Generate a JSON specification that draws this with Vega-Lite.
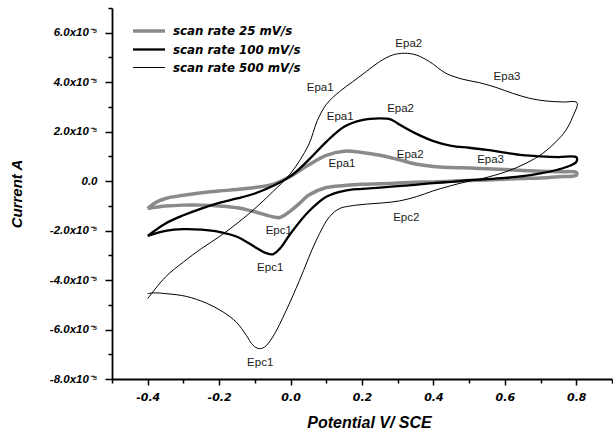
{
  "$schema": "https://vega.github.io/schema/vega-lite/v6.json",
  "width": 500,
  "height": 371,
  "autosize": {"type": "none"},
  "padding": {"left": 112, "top": 8, "right": 1, "bottom": 56},
  "background": "white",
  "config": {"view": {"stroke": null}, "font": "Liberation Sans"},
  "datasets": {
    "cv": [
      {"rate": "scan rate 25 mV/s", "i": 0, "V": -0.4, "I": -1.11e-5},
      {"rate": "scan rate 25 mV/s", "i": 1, "V": -0.38, "I": -0.88e-5},
      {"rate": "scan rate 25 mV/s", "i": 2, "V": -0.35, "I": -0.70e-5},
      {"rate": "scan rate 25 mV/s", "i": 3, "V": -0.3, "I": -0.57e-5},
      {"rate": "scan rate 25 mV/s", "i": 4, "V": -0.25, "I": -0.47e-5},
      {"rate": "scan rate 25 mV/s", "i": 5, "V": -0.2, "I": -0.40e-5},
      {"rate": "scan rate 25 mV/s", "i": 6, "V": -0.15, "I": -0.34e-5},
      {"rate": "scan rate 25 mV/s", "i": 7, "V": -0.1, "I": -0.26e-5},
      {"rate": "scan rate 25 mV/s", "i": 8, "V": -0.05, "I": -0.13e-5},
      {"rate": "scan rate 25 mV/s", "i": 9, "V": 0.0, "I": 0.20e-5},
      {"rate": "scan rate 25 mV/s", "i": 10, "V": 0.05, "I": 0.65e-5},
      {"rate": "scan rate 25 mV/s", "i": 11, "V": 0.1, "I": 1.04e-5},
      {"rate": "scan rate 25 mV/s", "i": 12, "V": 0.15, "I": 1.21e-5},
      {"rate": "scan rate 25 mV/s", "i": 13, "V": 0.2, "I": 1.16e-5},
      {"rate": "scan rate 25 mV/s", "i": 14, "V": 0.25, "I": 1.05e-5},
      {"rate": "scan rate 25 mV/s", "i": 15, "V": 0.3, "I": 0.88e-5},
      {"rate": "scan rate 25 mV/s", "i": 16, "V": 0.35, "I": 0.69e-5},
      {"rate": "scan rate 25 mV/s", "i": 17, "V": 0.4, "I": 0.59e-5},
      {"rate": "scan rate 25 mV/s", "i": 18, "V": 0.45, "I": 0.55e-5},
      {"rate": "scan rate 25 mV/s", "i": 19, "V": 0.5, "I": 0.53e-5},
      {"rate": "scan rate 25 mV/s", "i": 20, "V": 0.55, "I": 0.50e-5},
      {"rate": "scan rate 25 mV/s", "i": 21, "V": 0.6, "I": 0.47e-5},
      {"rate": "scan rate 25 mV/s", "i": 22, "V": 0.65, "I": 0.43e-5},
      {"rate": "scan rate 25 mV/s", "i": 23, "V": 0.7, "I": 0.40e-5},
      {"rate": "scan rate 25 mV/s", "i": 24, "V": 0.75, "I": 0.38e-5},
      {"rate": "scan rate 25 mV/s", "i": 25, "V": 0.8, "I": 0.35e-5},
      {"rate": "scan rate 25 mV/s", "i": 26, "V": 0.8, "I": 0.24e-5},
      {"rate": "scan rate 25 mV/s", "i": 27, "V": 0.75, "I": 0.18e-5},
      {"rate": "scan rate 25 mV/s", "i": 28, "V": 0.7, "I": 0.13e-5},
      {"rate": "scan rate 25 mV/s", "i": 29, "V": 0.65, "I": 0.11e-5},
      {"rate": "scan rate 25 mV/s", "i": 30, "V": 0.6, "I": 0.08e-5},
      {"rate": "scan rate 25 mV/s", "i": 31, "V": 0.55, "I": 0.05e-5},
      {"rate": "scan rate 25 mV/s", "i": 32, "V": 0.5, "I": 0.03e-5},
      {"rate": "scan rate 25 mV/s", "i": 33, "V": 0.45, "I": 0.0},
      {"rate": "scan rate 25 mV/s", "i": 34, "V": 0.4, "I": -0.03e-5},
      {"rate": "scan rate 25 mV/s", "i": 35, "V": 0.35, "I": -0.05e-5},
      {"rate": "scan rate 25 mV/s", "i": 36, "V": 0.3, "I": -0.08e-5},
      {"rate": "scan rate 25 mV/s", "i": 37, "V": 0.25, "I": -0.11e-5},
      {"rate": "scan rate 25 mV/s", "i": 38, "V": 0.2, "I": -0.13e-5},
      {"rate": "scan rate 25 mV/s", "i": 39, "V": 0.15, "I": -0.18e-5},
      {"rate": "scan rate 25 mV/s", "i": 40, "V": 0.1, "I": -0.26e-5},
      {"rate": "scan rate 25 mV/s", "i": 41, "V": 0.05, "I": -0.57e-5},
      {"rate": "scan rate 25 mV/s", "i": 42, "V": 0.025, "I": -0.90e-5},
      {"rate": "scan rate 25 mV/s", "i": 43, "V": 0.0, "I": -1.20e-5},
      {"rate": "scan rate 25 mV/s", "i": 44, "V": -0.03, "I": -1.47e-5},
      {"rate": "scan rate 25 mV/s", "i": 45, "V": -0.05, "I": -1.44e-5},
      {"rate": "scan rate 25 mV/s", "i": 46, "V": -0.1, "I": -1.24e-5},
      {"rate": "scan rate 25 mV/s", "i": 47, "V": -0.15, "I": -1.08e-5},
      {"rate": "scan rate 25 mV/s", "i": 48, "V": -0.2, "I": -1.01e-5},
      {"rate": "scan rate 25 mV/s", "i": 49, "V": -0.25, "I": -0.97e-5},
      {"rate": "scan rate 25 mV/s", "i": 50, "V": -0.3, "I": -0.97e-5},
      {"rate": "scan rate 25 mV/s", "i": 51, "V": -0.35, "I": -1.01e-5},
      {"rate": "scan rate 25 mV/s", "i": 52, "V": -0.4, "I": -1.11e-5},

      {"rate": "scan rate 100 mV/s", "i": 0, "V": -0.4, "I": -2.21e-5},
      {"rate": "scan rate 100 mV/s", "i": 1, "V": -0.35, "I": -1.71e-5},
      {"rate": "scan rate 100 mV/s", "i": 2, "V": -0.3, "I": -1.38e-5},
      {"rate": "scan rate 100 mV/s", "i": 3, "V": -0.25, "I": -1.11e-5},
      {"rate": "scan rate 100 mV/s", "i": 4, "V": -0.2, "I": -0.88e-5},
      {"rate": "scan rate 100 mV/s", "i": 5, "V": -0.15, "I": -0.70e-5},
      {"rate": "scan rate 100 mV/s", "i": 6, "V": -0.1, "I": -0.50e-5},
      {"rate": "scan rate 100 mV/s", "i": 7, "V": -0.05, "I": -0.20e-5},
      {"rate": "scan rate 100 mV/s", "i": 8, "V": 0.0, "I": 0.20e-5},
      {"rate": "scan rate 100 mV/s", "i": 9, "V": 0.05, "I": 0.85e-5},
      {"rate": "scan rate 100 mV/s", "i": 10, "V": 0.1, "I": 1.59e-5},
      {"rate": "scan rate 100 mV/s", "i": 11, "V": 0.15, "I": 2.20e-5},
      {"rate": "scan rate 100 mV/s", "i": 12, "V": 0.2, "I": 2.47e-5},
      {"rate": "scan rate 100 mV/s", "i": 13, "V": 0.25, "I": 2.54e-5},
      {"rate": "scan rate 100 mV/s", "i": 14, "V": 0.28, "I": 2.50e-5},
      {"rate": "scan rate 100 mV/s", "i": 15, "V": 0.3, "I": 2.33e-5},
      {"rate": "scan rate 100 mV/s", "i": 16, "V": 0.35, "I": 1.93e-5},
      {"rate": "scan rate 100 mV/s", "i": 17, "V": 0.4, "I": 1.62e-5},
      {"rate": "scan rate 100 mV/s", "i": 18, "V": 0.45, "I": 1.43e-5},
      {"rate": "scan rate 100 mV/s", "i": 19, "V": 0.5, "I": 1.35e-5},
      {"rate": "scan rate 100 mV/s", "i": 20, "V": 0.55, "I": 1.26e-5},
      {"rate": "scan rate 100 mV/s", "i": 21, "V": 0.6, "I": 1.15e-5},
      {"rate": "scan rate 100 mV/s", "i": 22, "V": 0.65, "I": 1.05e-5},
      {"rate": "scan rate 100 mV/s", "i": 23, "V": 0.7, "I": 1.00e-5},
      {"rate": "scan rate 100 mV/s", "i": 24, "V": 0.75, "I": 0.97e-5},
      {"rate": "scan rate 100 mV/s", "i": 25, "V": 0.8, "I": 0.97e-5},
      {"rate": "scan rate 100 mV/s", "i": 26, "V": 0.8, "I": 0.78e-5},
      {"rate": "scan rate 100 mV/s", "i": 27, "V": 0.78, "I": 0.61e-5},
      {"rate": "scan rate 100 mV/s", "i": 28, "V": 0.75, "I": 0.47e-5},
      {"rate": "scan rate 100 mV/s", "i": 29, "V": 0.7, "I": 0.31e-5},
      {"rate": "scan rate 100 mV/s", "i": 30, "V": 0.65, "I": 0.20e-5},
      {"rate": "scan rate 100 mV/s", "i": 31, "V": 0.6, "I": 0.13e-5},
      {"rate": "scan rate 100 mV/s", "i": 32, "V": 0.55, "I": 0.08e-5},
      {"rate": "scan rate 100 mV/s", "i": 33, "V": 0.5, "I": 0.04e-5},
      {"rate": "scan rate 100 mV/s", "i": 34, "V": 0.45, "I": -0.03e-5},
      {"rate": "scan rate 100 mV/s", "i": 35, "V": 0.4, "I": -0.08e-5},
      {"rate": "scan rate 100 mV/s", "i": 36, "V": 0.35, "I": -0.15e-5},
      {"rate": "scan rate 100 mV/s", "i": 37, "V": 0.3, "I": -0.20e-5},
      {"rate": "scan rate 100 mV/s", "i": 38, "V": 0.25, "I": -0.26e-5},
      {"rate": "scan rate 100 mV/s", "i": 39, "V": 0.2, "I": -0.31e-5},
      {"rate": "scan rate 100 mV/s", "i": 40, "V": 0.15, "I": -0.39e-5},
      {"rate": "scan rate 100 mV/s", "i": 41, "V": 0.1, "I": -0.63e-5},
      {"rate": "scan rate 100 mV/s", "i": 42, "V": 0.05, "I": -1.24e-5},
      {"rate": "scan rate 100 mV/s", "i": 43, "V": 0.0, "I": -2.12e-5},
      {"rate": "scan rate 100 mV/s", "i": 44, "V": -0.03, "I": -2.73e-5},
      {"rate": "scan rate 100 mV/s", "i": 45, "V": -0.05, "I": -2.96e-5},
      {"rate": "scan rate 100 mV/s", "i": 46, "V": -0.07, "I": -2.90e-5},
      {"rate": "scan rate 100 mV/s", "i": 47, "V": -0.1, "I": -2.66e-5},
      {"rate": "scan rate 100 mV/s", "i": 48, "V": -0.15, "I": -2.25e-5},
      {"rate": "scan rate 100 mV/s", "i": 49, "V": -0.2, "I": -2.05e-5},
      {"rate": "scan rate 100 mV/s", "i": 50, "V": -0.25, "I": -1.96e-5},
      {"rate": "scan rate 100 mV/s", "i": 51, "V": -0.3, "I": -1.94e-5},
      {"rate": "scan rate 100 mV/s", "i": 52, "V": -0.35, "I": -2.01e-5},
      {"rate": "scan rate 100 mV/s", "i": 53, "V": -0.4, "I": -2.21e-5},

      {"rate": "scan rate 500 mV/s", "i": 0, "V": -0.4, "I": -4.75e-5},
      {"rate": "scan rate 500 mV/s", "i": 1, "V": -0.35, "I": -3.87e-5},
      {"rate": "scan rate 500 mV/s", "i": 2, "V": -0.3, "I": -3.27e-5},
      {"rate": "scan rate 500 mV/s", "i": 3, "V": -0.25, "I": -2.73e-5},
      {"rate": "scan rate 500 mV/s", "i": 4, "V": -0.2, "I": -2.25e-5},
      {"rate": "scan rate 500 mV/s", "i": 5, "V": -0.15, "I": -1.71e-5},
      {"rate": "scan rate 500 mV/s", "i": 6, "V": -0.1, "I": -1.11e-5},
      {"rate": "scan rate 500 mV/s", "i": 7, "V": -0.05, "I": -0.43e-5},
      {"rate": "scan rate 500 mV/s", "i": 8, "V": 0.0, "I": 0.31e-5},
      {"rate": "scan rate 500 mV/s", "i": 9, "V": 0.05, "I": 1.45e-5},
      {"rate": "scan rate 500 mV/s", "i": 10, "V": 0.075, "I": 2.45e-5},
      {"rate": "scan rate 500 mV/s", "i": 11, "V": 0.1, "I": 3.1e-5},
      {"rate": "scan rate 500 mV/s", "i": 12, "V": 0.137, "I": 3.62e-5},
      {"rate": "scan rate 500 mV/s", "i": 13, "V": 0.174, "I": 4.02e-5},
      {"rate": "scan rate 500 mV/s", "i": 14, "V": 0.212, "I": 4.43e-5},
      {"rate": "scan rate 500 mV/s", "i": 15, "V": 0.249, "I": 4.83e-5},
      {"rate": "scan rate 500 mV/s", "i": 16, "V": 0.286, "I": 5.10e-5},
      {"rate": "scan rate 500 mV/s", "i": 17, "V": 0.319, "I": 5.17e-5},
      {"rate": "scan rate 500 mV/s", "i": 18, "V": 0.352, "I": 5.10e-5},
      {"rate": "scan rate 500 mV/s", "i": 19, "V": 0.389, "I": 4.83e-5},
      {"rate": "scan rate 500 mV/s", "i": 20, "V": 0.435, "I": 4.36e-5},
      {"rate": "scan rate 500 mV/s", "i": 21, "V": 0.482, "I": 4.12e-5},
      {"rate": "scan rate 500 mV/s", "i": 22, "V": 0.529, "I": 3.98e-5},
      {"rate": "scan rate 500 mV/s", "i": 23, "V": 0.575, "I": 3.79e-5},
      {"rate": "scan rate 500 mV/s", "i": 24, "V": 0.622, "I": 3.55e-5},
      {"rate": "scan rate 500 mV/s", "i": 25, "V": 0.669, "I": 3.35e-5},
      {"rate": "scan rate 500 mV/s", "i": 26, "V": 0.715, "I": 3.24e-5},
      {"rate": "scan rate 500 mV/s", "i": 27, "V": 0.762, "I": 3.20e-5},
      {"rate": "scan rate 500 mV/s", "i": 28, "V": 0.802, "I": 3.17e-5},
      {"rate": "scan rate 500 mV/s", "i": 29, "V": 0.79, "I": 2.6e-5},
      {"rate": "scan rate 500 mV/s", "i": 30, "V": 0.771, "I": 2.06e-5},
      {"rate": "scan rate 500 mV/s", "i": 31, "V": 0.743, "I": 1.59e-5},
      {"rate": "scan rate 500 mV/s", "i": 32, "V": 0.706, "I": 1.12e-5},
      {"rate": "scan rate 500 mV/s", "i": 33, "V": 0.659, "I": 0.72e-5},
      {"rate": "scan rate 500 mV/s", "i": 34, "V": 0.603, "I": 0.38e-5},
      {"rate": "scan rate 500 mV/s", "i": 35, "V": 0.538, "I": 0.11e-5},
      {"rate": "scan rate 500 mV/s", "i": 36, "V": 0.491, "I": -0.03e-5},
      {"rate": "scan rate 500 mV/s", "i": 37, "V": 0.445, "I": -0.20e-5},
      {"rate": "scan rate 500 mV/s", "i": 38, "V": 0.398, "I": -0.40e-5},
      {"rate": "scan rate 500 mV/s", "i": 39, "V": 0.352, "I": -0.63e-5},
      {"rate": "scan rate 500 mV/s", "i": 40, "V": 0.305, "I": -0.80e-5},
      {"rate": "scan rate 500 mV/s", "i": 41, "V": 0.258, "I": -0.88e-5},
      {"rate": "scan rate 500 mV/s", "i": 42, "V": 0.212, "I": -0.93e-5},
      {"rate": "scan rate 500 mV/s", "i": 43, "V": 0.165, "I": -1.01e-5},
      {"rate": "scan rate 500 mV/s", "i": 44, "V": 0.137, "I": -1.11e-5},
      {"rate": "scan rate 500 mV/s", "i": 45, "V": 0.109, "I": -1.44e-5},
      {"rate": "scan rate 500 mV/s", "i": 46, "V": 0.072, "I": -2.39e-5},
      {"rate": "scan rate 500 mV/s", "i": 47, "V": 0.025, "I": -4.01e-5},
      {"rate": "scan rate 500 mV/s", "i": 48, "V": -0.012, "I": -5.22e-5},
      {"rate": "scan rate 500 mV/s", "i": 49, "V": -0.05, "I": -6.30e-5},
      {"rate": "scan rate 500 mV/s", "i": 50, "V": -0.073, "I": -6.71e-5},
      {"rate": "scan rate 500 mV/s", "i": 51, "V": -0.089, "I": -6.77e-5},
      {"rate": "scan rate 500 mV/s", "i": 52, "V": -0.105, "I": -6.64e-5},
      {"rate": "scan rate 500 mV/s", "i": 53, "V": -0.124, "I": -6.23e-5},
      {"rate": "scan rate 500 mV/s", "i": 54, "V": -0.152, "I": -5.70e-5},
      {"rate": "scan rate 500 mV/s", "i": 55, "V": -0.189, "I": -5.29e-5},
      {"rate": "scan rate 500 mV/s", "i": 56, "V": -0.236, "I": -4.93e-5},
      {"rate": "scan rate 500 mV/s", "i": 57, "V": -0.292, "I": -4.66e-5},
      {"rate": "scan rate 500 mV/s", "i": 58, "V": -0.348, "I": -4.55e-5},
      {"rate": "scan rate 500 mV/s", "i": 59, "V": -0.385, "I": -4.52e-5},
      {"rate": "scan rate 500 mV/s", "i": 60, "V": -0.4, "I": -4.55e-5}
    ],
    "peaks": [
      {"label": "Epa1", "V": 0.083, "I": 3.78e-5},
      {"label": "Epa2", "V": 0.331, "I": 5.55e-5},
      {"label": "Epa3", "V": 0.606, "I": 4.22e-5},
      {"label": "Epa1", "V": 0.139, "I": 2.60e-5},
      {"label": "Epa2", "V": 0.308, "I": 2.93e-5},
      {"label": "Epa1", "V": 0.144, "I": 0.69e-5},
      {"label": "Epa2", "V": 0.335, "I": 1.04e-5},
      {"label": "Epa3", "V": 0.560, "I": 0.84e-5},
      {"label": "Epc1", "V": -0.033, "I": -2.02e-5},
      {"label": "Epc1", "V": -0.057, "I": -3.51e-5},
      {"label": "Epc1", "V": -0.085, "I": -7.37e-5},
      {"label": "Epc2", "V": 0.324, "I": -1.49e-5}
    ]
  },
  "resolve": {"scale": {"x": "shared", "y": "shared"}, "axis": {"x": "independent", "y": "independent"}},
  "layer": [
    {
      "data": {"name": "cv"},
      "mark": {"type": "line", "interpolate": "catmull-rom"},
      "encoding": {
        "x": {
          "field": "V", "type": "quantitative",
          "scale": {"domain": [-0.5, 0.9], "nice": false, "zero": false},
          "axis": {
            "orient": "bottom",
            "values": [-0.4, -0.2, 0, 0.2, 0.4, 0.6, 0.8],
            "format": ".1f",
            "labelExpr": "replace(datum.label, '−', '-')",
            "title": "Potential V/ SCE",
            "grid": false,
            "domainColor": "#000", "domainWidth": 1.8,
            "tickColor": "#000", "tickWidth": 1.5, "tickSize": 6,
            "labelFont": "DejaVu Sans", "labelFontWeight": "bold", "labelFontStyle": "italic",
            "labelFontSize": 11, "labelColor": "#000", "labelPadding": 6,
            "labelOverlap": false, "labelFlush": false,
            "titleFont": "Liberation Sans", "titleFontWeight": "bold", "titleFontStyle": "italic",
            "titleFontSize": 16, "titleColor": "#000", "titlePadding": 12, "titleX": 257
          }
        },
        "y": {
          "field": "I", "type": "quantitative",
          "scale": {"domain": [-0.00008, 0.00007], "nice": false, "zero": false},
          "axis": {
            "orient": "left",
            "values": [-0.00008, -0.00006, -0.00004, -0.00002, 0, 0.00002, 0.00004, 0.00006],
            "labelExpr": "round(datum.value*1e5)==0 ? '0.0' : (round(datum.value*1e5)<0 ? '-' : '') + abs(round(datum.value*1e5)) + '.0x10⁻⁵'",
            "title": "Current A",
            "grid": false,
            "domainColor": "#000", "domainWidth": 1.8,
            "tickColor": "#000", "tickWidth": 1.5, "tickSize": 7,
            "labelFont": "Liberation Sans", "labelFontWeight": "bold", "labelFontStyle": "italic",
            "labelFontSize": 11.5, "labelColor": "#000", "labelPadding": 8,
            "labelOverlap": false, "labelFlush": false,
            "titleFont": "Liberation Sans", "titleFontWeight": "bold", "titleFontStyle": "italic",
            "titleFontSize": 15, "titleColor": "#000", "titlePadding": 25
          }
        },
        "color": {
          "field": "rate", "type": "nominal",
          "scale": {"domain": ["scan rate 25 mV/s", "scan rate 100 mV/s", "scan rate 500 mV/s"], "range": ["#8a8a8a", "#000000", "#000000"]},
          "legend": {
            "title": null, "orient": "none", "legendX": 25, "legendY": 11,
            "symbolType": "M-1.6,0H1.6", "symbolSize": 400, "rowPadding": 0,
            "padding": 0, "labelOffset": 12,
            "labelFont": "DejaVu Sans", "labelFontWeight": "bold", "labelFontStyle": "italic",
            "labelFontSize": 11.8, "labelColor": "#000", "labelLimit": 300
          }
        },
        "strokeWidth": {
          "field": "rate", "type": "nominal",
          "scale": {"type": "ordinal", "domain": ["scan rate 25 mV/s", "scan rate 100 mV/s", "scan rate 500 mV/s"], "range": [3.5, 2.3, 1]},
          "legend": {
            "title": null, "orient": "none", "legendX": 25, "legendY": 11,
            "symbolType": "M-1.6,0H1.6", "symbolSize": 400, "rowPadding": 0,
            "padding": 0, "labelOffset": 12,
            "labelFont": "DejaVu Sans", "labelFontWeight": "bold", "labelFontStyle": "italic",
            "labelFontSize": 11.8, "labelColor": "#000", "labelLimit": 300
          }
        },
        "order": {"field": "i", "type": "quantitative"}
      }
    },
    {
      "data": {"name": "peaks"},
      "mark": {"type": "text", "font": "Liberation Sans", "fontSize": 11.5, "color": "#1a1a1a", "align": "center", "baseline": "middle"},
      "encoding": {
        "x": {
          "field": "V", "type": "quantitative",
          "axis": {
            "orient": "bottom",
            "values": [-0.5, -0.3, -0.1, 0.1, 0.3, 0.5, 0.7, 0.9],
            "labels": false, "domain": false, "grid": false, "title": null,
            "tickColor": "#000", "tickWidth": 1.5, "tickSize": 4
          }
        },
        "y": {
          "field": "I", "type": "quantitative",
          "axis": {
            "orient": "left",
            "values": [-0.00007, -0.00005, -0.00003, -0.00001, 0.00001, 0.00003, 0.00005, 0.00007],
            "labels": false, "domain": false, "grid": false, "title": null,
            "tickColor": "#000", "tickWidth": 1.5, "tickSize": 4
          }
        },
        "text": {"field": "label", "type": "nominal"}
      }
    }
  ]
}
